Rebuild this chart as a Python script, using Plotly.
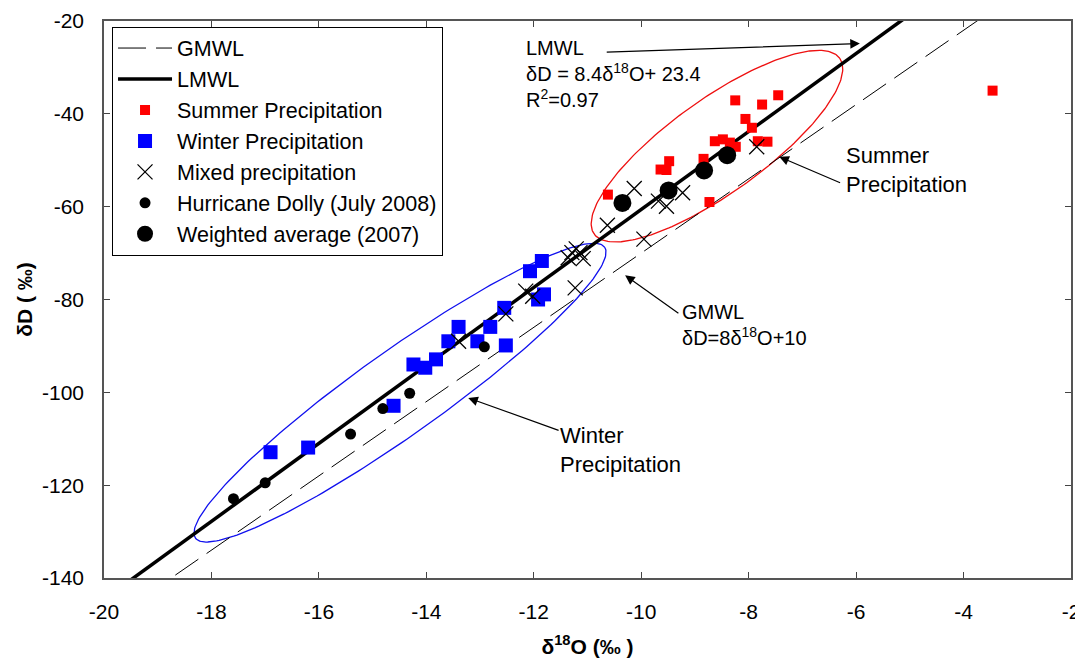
import numpy as np
import plotly.graph_objects as go

# ---------------- data ----------------
summer_x = [-10.62, -8.25, -7.45, -7.75, -8.06, -7.94, -8.63, -8.48, -8.35, -8.24,
            -7.83, -7.65, -8.84, -9.48, -9.64, -9.53, -8.73, -3.46]
summer_y = [-57.4, -37.1, -36.0, -38.0, -41.1, -43.0, -45.9, -45.5, -46.2, -47.1,
            -45.9, -46.0, -49.7, -50.2, -52.0, -52.1, -59.0, -35.0]

winter_x = [-16.90, -16.20, -14.61, -14.24, -14.02, -13.82, -13.59, -13.40, -13.05,
            -12.81, -12.52, -12.55, -12.07, -11.85, -11.92, -11.81]
winter_y = [-112.9, -111.9, -102.9, -94.0, -94.7, -92.9, -89.0, -85.9, -89.0,
            -85.9, -89.9, -81.8, -73.9, -71.7, -80.0, -78.9]

mixed_x = [-13.40, -12.52, -12.15, -12.02, -11.23, -11.36, -11.29, -11.21, -11.14,
           -11.08, -10.63, -9.95, -10.13, -9.68, -9.53, -9.23, -7.85]
mixed_y = [-89.0, -83.1, -78.2, -79.3, -77.5, -71.0, -69.9, -69.1, -69.9,
           -71.2, -64.0, -67.0, -56.1, -58.8, -59.9, -57.0, -47.1]

dolly_x = [-17.59, -17.00, -15.41, -14.81, -14.31, -12.92]
dolly_y = [-122.9, -119.5, -109.0, -103.5, -100.2, -90.2]

wavg_x = [-10.35, -9.49, -8.83, -8.40]
wavg_y = [-59.2, -56.5, -52.2, -48.9]

# meteoric water lines: slope, intercept
gmwl_slope, gmwl_int = 8.0, 10.0
lmwl_slope, lmwl_int = 8.4, 23.4
line_x = [-21.0, -2.0]

x_range = [-20, -2]
y_range = [-140, -20]
x_ticks = [-20, -18, -16, -14, -12, -10, -8, -6, -4, -2]
y_ticks = [-140, -120, -100, -80, -60, -40, -20]
x_ticktext = ["-20", "-18", "-16", "-14", "-12", "-10", "-8", "-6", "-4", "-2"]
y_ticktext = ["-140", "-120", "-100", "-80", "-60", "-40", "-20"]

# ---------------- layout geometry ----------------
W, H = 1075, 664
ML, MR, MT, MB = 104, 4, 21, 86
pw, ph = W - ML - MR, H - MT - MB
ppx = pw / (x_range[1] - x_range[0])
ppy = ph / (y_range[1] - y_range[0])


def ellipse(cx, cy, a_px, b_px, ang_deg, n=240):
    t = np.linspace(0, 2 * np.pi, n)
    th = np.radians(ang_deg)
    dx = a_px * np.cos(t) * np.cos(th) - b_px * np.sin(t) * np.sin(th)
    dy = a_px * np.cos(t) * np.sin(th) + b_px * np.sin(t) * np.cos(th)
    return cx + dx / ppx, cy + dy / ppy


FONT = "Liberation Sans, Arial, Helvetica, sans-serif"

fig = go.Figure()

bx, by = ellipse(-14.49, -100.07, 251, 42, 35.4)
rx, ry = ellipse(-8.59, -46.97, 151, 47, 35.6)
fig.add_trace(go.Scatter(x=bx, y=by, mode="lines", line=dict(color="#1010ee", width=1.3),
                         showlegend=False, hoverinfo="skip"))
fig.add_trace(go.Scatter(x=rx, y=ry, mode="lines", line=dict(color="#ee1010", width=1.3),
                         showlegend=False, hoverinfo="skip"))

lx = np.array(line_x)
fig.add_trace(go.Scatter(x=lx, y=gmwl_slope * lx + gmwl_int, mode="lines", name="GMWL",
                         line=dict(color="black", width=1, dash="28px,10px")))
fig.add_trace(go.Scatter(x=lx, y=lmwl_slope * lx + lmwl_int, mode="lines", name="LMWL",
                         line=dict(color="black", width=3.5)))
fig.add_trace(go.Scatter(x=summer_x, y=summer_y, mode="markers", name="Summer Precipitation",
                         marker=dict(symbol="square", size=10, color="#ff0000",
                                     line=dict(width=0))))
fig.add_trace(go.Scatter(x=winter_x, y=winter_y, mode="markers", name="Winter Precipitation",
                         marker=dict(symbol="square", size=14, color="#0000ff",
                                     line=dict(width=0))))
fig.add_trace(go.Scatter(x=mixed_x, y=mixed_y, mode="markers", name="Mixed precipitation",
                         marker=dict(symbol="x-thin-open", size=15, color="black",
                                     line=dict(width=1.3, color="black"))))
fig.add_trace(go.Scatter(x=dolly_x, y=dolly_y, mode="markers", name="Hurricane Dolly (July 2008)",
                         marker=dict(symbol="circle", size=11, color="black")))
fig.add_trace(go.Scatter(x=wavg_x, y=wavg_y, mode="markers", name="Weighted average (2007)",
                         marker=dict(symbol="circle", size=18, color="black")))

axis_common = dict(
    showgrid=False, zeroline=False, showline=True, linecolor="#555555", linewidth=1.5,
    mirror="allticks", ticks="inside", ticklen=6, tickcolor="#444444", tickwidth=1,
    tickfont=dict(family=FONT, size=21, color="black"), ticklabelstandoff=14,
    ticklabeloverflow="allow",
)

fig.update_xaxes(range=x_range, tickvals=x_ticks, ticktext=x_ticktext, **axis_common,
                 title=dict(text="δ<sup>18</sup>O (‰ )", standoff=17,
                            font=dict(family=FONT, size=21, color="black", weight="bold")))
fig.update_yaxes(range=y_range, tickvals=y_ticks, ticktext=y_ticktext, **axis_common,
                 title=dict(text="δD ( ‰)", standoff=4,
                            font=dict(family=FONT, size=21, color="black", weight="bold")))

arrows = [
    # head_x, head_y, tail_x, tail_y
    (-5.93, -24.85, -10.67, -26.72),
    (-7.43, -49.25, -6.27, -55.0),
    (-10.30, -74.8, -9.28, -83.2),
    (-13.22, -101.2, -11.51, -108.3),
]
for hx, hy, tx, ty in arrows:
    fig.add_annotation(x=hx, y=hy, ax=tx, ay=ty, xref="x", yref="y", axref="x", ayref="y",
                       text="", showarrow=True, arrowhead=2, arrowsize=1.6, arrowwidth=1.2,
                       arrowcolor="black", standoff=0, startstandoff=0)

texts = [
    (-12.18, -31.5, "LMWL<br>δD = 8.4δ<sup>18</sup>O+ 23.4<br>R<sup>2</sup>=0.97", 20),
    (-6.22, -52.1, "Summer<br>Precipitation", 22),
    (-9.27, -85.4, "GMWL<br>δD=8δ<sup>18</sup>O+10", 20),
    (-11.55, -112.4, "Winter<br>Precipitation", 22),
]
for x, y, t, s in texts:
    fig.add_annotation(x=x, y=y, xref="x", yref="y", text=t, showarrow=False,
                       xanchor="left", yanchor="middle", align="left",
                       font=dict(family=FONT, size=s, color="black"))

fig.update_layout(
    width=W, height=H, margin=dict(l=ML, r=MR, t=MT, b=MB, autoexpand=False),
    paper_bgcolor="white", plot_bgcolor="white",
    font=dict(family=FONT, color="black"),
    legend=dict(x=0.0083, y=0.99, xanchor="left", yanchor="top",
                bgcolor="white", bordercolor="black", borderwidth=1,
                font=dict(family=FONT, size=21.5, color="black"), itemwidth=54,
                tracegroupgap=0),
)

fig.write_html("out.html")
